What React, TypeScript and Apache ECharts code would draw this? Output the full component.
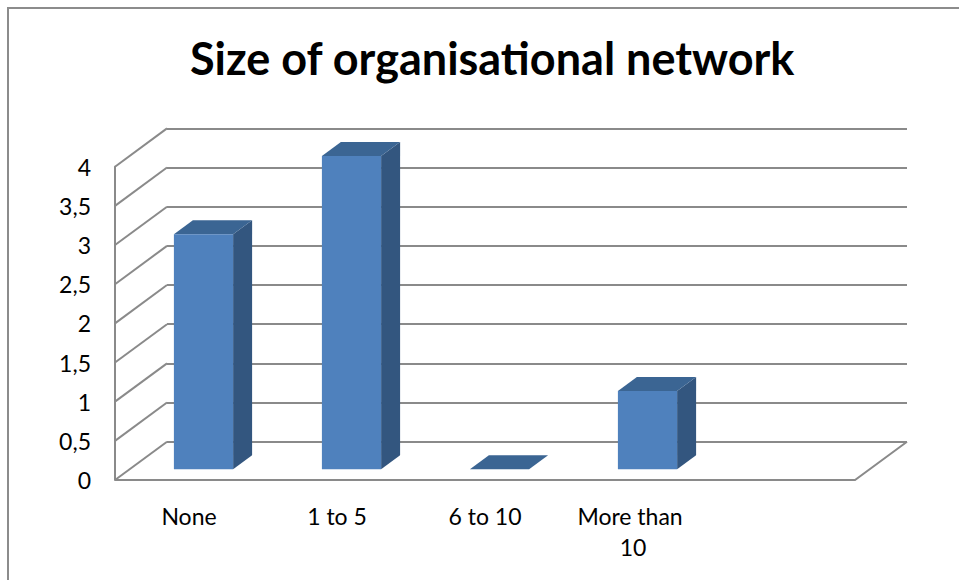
import React, { useEffect, useRef } from "react";
import * as echarts from "echarts";

const title = "Size of organisational network";
const categories = ["None", "1 to 5", "6 to 10", "More than 10", ""];
const values = [3, 4, 0, 1];
const yTicks = [0, 0.5, 1, 1.5, 2, 2.5, 3, 3.5, 4];

const GRID_COLOR = "#8a8a8a";
const WALL_DX = 52;
const WALL_DY = -38.3;
const BAR_SX = 14.5;
const BAR_SY = -10.7;
const BAR_DX = 19;
const BAR_DY = -14;
const FONT = "Lato, 'Open Sans', sans-serif";

export default function App() {
  const ref = useRef<HTMLDivElement>(null);
  useEffect(() => {
    if (!ref.current) return;
    const chart = echarts.init(ref.current, null, { renderer: "svg" });
    const option: any = {
      animation: false,
      backgroundColor: "#ffffff",
      title: {
        text: title,
        left: 185,
        top: 30,
        textStyle: { fontFamily: FONT, fontSize: 45, fontWeight: "bold", color: "#000" },
      },
      graphic: [
        {
          type: "rect",
          shape: { x: 8, y: 8, width: 1200, height: 1200 },
          style: { fill: "none", stroke: "#8c8c8c", lineWidth: 2 },
          silent: true,
        },
      ],
      grid: [
        { left: 115, top: 166.7, width: 740, height: 313.3 },
        { left: 115 + WALL_DX, top: 166.7 + WALL_DY, width: 740, height: 313.3 },
      ],
      xAxis: [
        {
          type: "category",
          gridIndex: 0,
          data: categories,
          axisLine: { show: false },
          axisTick: { show: false },
          axisLabel: {
            fontFamily: FONT,
            fontSize: 23,
            color: "#000",
            margin: 20,
            width: 120,
            overflow: "break",
            lineHeight: 31,
            interval: 0,
          },
          splitLine: { show: false },
        },
        {
          type: "category",
          gridIndex: 1,
          data: categories,
          axisLine: { show: false },
          axisTick: { show: false },
          axisLabel: { show: false },
          splitLine: { show: false },
        },
      ],
      yAxis: [
        {
          type: "value",
          gridIndex: 0,
          min: 0,
          max: 4,
          interval: 0.5,
          axisLine: { show: true, lineStyle: { color: GRID_COLOR, width: 2 } },
          axisTick: { show: false },
          splitLine: { show: false },
          axisLabel: {
            fontFamily: FONT,
            fontSize: 23,
            color: "#000",
            margin: 24,
            formatter: (v: number) => String(v).replace(".", ","),
          },
        },
        {
          type: "value",
          gridIndex: 1,
          min: 0,
          max: 4,
          interval: 0.5,
          axisLine: { show: false },
          axisTick: { show: false },
          axisLabel: { show: false },
          splitLine: { show: true, lineStyle: { color: GRID_COLOR, width: 2 } },
        },
      ],
      series: [
        {
          type: "custom",
          name: "walls",
          xAxisIndex: 0,
          yAxisIndex: 0,
          silent: true,
          data: yTicks.map((t) => [0, t]),
          renderItem: (params: any, api: any) => {
            const cs = params.coordSys;
            const y = api.coord([0, api.value(1)])[1];
            const x = cs.x;
            return {
              type: "line",
              shape: { x1: x, y1: y, x2: x + WALL_DX, y2: y + WALL_DY },
              style: { stroke: GRID_COLOR, lineWidth: 2 },
            };
          },
          z: 1,
        },
        {
          type: "custom",
          name: "floor",
          xAxisIndex: 0,
          yAxisIndex: 0,
          silent: true,
          data: [[0, 0]],
          renderItem: (params: any, api: any) => {
            const cs = params.coordSys;
            const y = api.coord([0, 0])[1];
            const x1 = cs.x;
            const x2 = cs.x + cs.width;
            return {
              type: "polyline",
              shape: {
                points: [
                  [x1, y],
                  [x2, y],
                  [x2 + WALL_DX, y + WALL_DY],
                ],
              },
              style: { stroke: GRID_COLOR, lineWidth: 2, fill: "none" },
            };
          },
          z: 1,
        },
        {
          type: "custom",
          name: "bars",
          xAxisIndex: 0,
          yAxisIndex: 0,
          data: values.map((v, i) => [i, v]),
          renderItem: (params: any, api: any) => {
            const [cx, yTop0] = api.coord([api.value(0), api.value(1)]);
            const yBase0 = api.coord([api.value(0), 0])[1];
            const w = api.size([1, 0])[0] * 0.4;
            const xl = cx - w / 2 + BAR_SX;
            const xr = xl + w;
            const yt = yTop0 + BAR_SY;
            const yb = yBase0 + BAR_SY;
            return {
              type: "group",
              children: [
                {
                  type: "polygon",
                  shape: {
                    points: [
                      [xr, yt],
                      [xr + BAR_DX, yt + BAR_DY],
                      [xr + BAR_DX, yb + BAR_DY],
                      [xr, yb],
                    ],
                  },
                  style: { fill: "#33567f" },
                },
                {
                  type: "polygon",
                  shape: {
                    points: [
                      [xl, yt],
                      [xl + BAR_DX, yt + BAR_DY],
                      [xr + BAR_DX, yt + BAR_DY],
                      [xr, yt],
                    ],
                  },
                  style: { fill: "#3b6593" },
                },
                {
                  type: "rect",
                  shape: { x: xl, y: yt, width: w, height: yb - yt },
                  style: { fill: "#4f81bd" },
                },
              ],
            };
          },
          z: 3,
        },
      ],
    };
    chart.setOption(option);
    return () => chart.dispose();
  }, []);
  return (
    <div
      ref={ref}
      style={{ position: "fixed", left: 0, top: 0, width: 959, height: 580 }}
    />
  );
}
